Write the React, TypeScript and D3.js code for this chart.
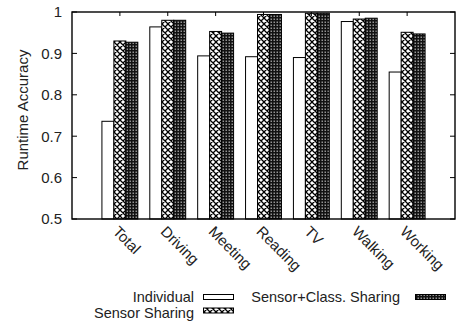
import React from 'react';
import * as d3 from 'd3';

// categories and series
const categories = ['Total', 'Driving', 'Meeting', 'Reading', 'TV', 'Walking', 'Working'];
const individual = [0.736, 0.964, 0.894, 0.892, 0.89, 0.977, 0.855];
const sensorSharing = [0.93, 0.98, 0.953, 0.994, 0.997, 0.983, 0.951];
const sensorClassSharing = [0.927, 0.98, 0.949, 0.994, 0.997, 0.985, 0.947];
const yTicks = [0.5, 0.6, 0.7, 0.8, 0.9, 1];

const W = 469;
const H = 322;
const margin = { top: 12, right: 14, bottom: 103, left: 72 };
const font = 'Liberation Sans, Arial, Helvetica, sans-serif';

const App = () => {
  const x = d3
    .scaleBand<string>()
    .domain(categories)
    .range([margin.left, W - margin.right])
    .paddingInner(0)
    .paddingOuter(0.5);
  const y = d3.scaleLinear().domain([0.5, 1]).range([H - margin.bottom, margin.top]);

  const step = x.step();
  const bw = step * 0.25;
  const fills = ['#fff', 'url(#hatch)', 'url(#fine)'];
  const series = [individual, sensorSharing, sensorClassSharing];
  const cx = (c: string) => (x(c) as number) + x.bandwidth() / 2;
  const x0 = margin.left;
  const x1 = W - margin.right;
  const yb = y(0.5);
  const yt = y(1);

  return (
    <svg width={W} height={H} style={{ position: 'absolute', left: 0, top: 0 }} fontFamily={font}>
      <defs>
        <pattern id="hatch" patternUnits="userSpaceOnUse" width={6} height={6}>
          <rect width={6} height={6} fill="#fff" />
          <path d="M0,0L6,6M6,0L0,6M-1,5L1,7M5,-1L7,1M-1,1L1,-1M5,7L7,5" stroke="#000" strokeWidth={1.3} />
        </pattern>
        <pattern id="fine" patternUnits="userSpaceOnUse" width={3} height={3}>
          <rect width={3} height={3} fill="#111" />
          <rect x={0.6} y={0.6} width={1.2} height={1.2} fill="#fff" opacity={0.85} />
        </pattern>
      </defs>

      {/* bars */}
      {categories.map((c, i) => (
        <g key={c}>
          {series.map((s, k) => (
            <rect
              key={k}
              x={cx(c) + (k - 1.5) * bw}
              y={y(s[i])}
              width={bw}
              height={yb - y(s[i])}
              fill={fills[k]}
              stroke="#000"
              strokeWidth={1}
            />
          ))}
        </g>
      ))}

      {/* ticks */}
      {yTicks.map(t => (
        <g key={t}>
          <line x1={x0} x2={x0 + 5} y1={y(t)} y2={y(t)} stroke="#000" />
          <line x1={x1} x2={x1 - 5} y1={y(t)} y2={y(t)} stroke="#000" />
          <text x={62} y={y(t)} dy="0.36em" textAnchor="end" fontSize={15} fill="#222">
            {d3.format('~g')(t)}
          </text>
        </g>
      ))}
      {categories.map(c => (
        <g key={c}>
          <line x1={cx(c)} x2={cx(c)} y1={yt} y2={yt + 4} stroke="#000" />
          <text
            transform={`translate(${cx(c) - 8},${yb + 13.5}) rotate(45)`}
            fontSize={15}
            fill="#222"
          >
            {c}
          </text>
        </g>
      ))}

      {/* frame */}
      <rect x={x0} y={yt} width={x1 - x0} height={yb - yt} fill="none" stroke="#000" strokeWidth={1.4} />

      <text transform={`translate(28,110) rotate(-90)`} textAnchor="middle" fontSize={15} fill="#222">
        Runtime Accuracy
      </text>

      {/* legend */}
      <text x={194} y={302} textAnchor="end" fontSize={14.5} fill="#222">Individual</text>
      <rect x={203.5} y={294.5} width={30} height={5} fill="#fff" stroke="#000" />
      <text x={194} y={318} textAnchor="end" fontSize={14.5} fill="#222">Sensor Sharing</text>
      <rect x={203.5} y={308} width={30} height={5} fill="url(#hatch)" stroke="#000" />
      <text x={400} y={302} textAnchor="end" fontSize={14.5} fill="#222">Sensor+Class. Sharing</text>
      <rect x={415.5} y={294.5} width={30} height={5} fill="url(#fine)" stroke="#000" />
    </svg>
  );
};

export default App;
